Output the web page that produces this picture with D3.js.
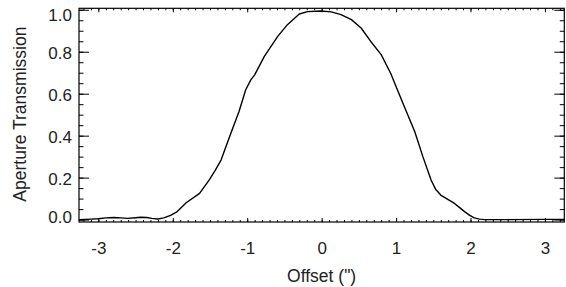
<!DOCTYPE html>
<html lang="en">
<head>
  <meta charset="UTF-8">
  <script src="https://d3js.org/d3.v7.min.js"></script>
  <style>
    body { margin: 0; background: #fff; }
    svg text { font-family: "Liberation Sans", Arial, sans-serif; fill: #222; }
    .axis path.domain { display: none; }
    .axis line { stroke: #000; stroke-width: 1; }
  </style>
  <title>Aperture Transmission</title>
</head>
<body>
  <svg id="chart" width="566" height="287"></svg>
  <script>
    // offset in arcsec, transmission
    var offset = [-3.26, -3.10, -3.00, -2.90, -2.79, -2.70, -2.61, -2.50, -2.43, -2.35,
      -2.28, -2.20, -2.12, -2.03, -1.94, -1.82, -1.64, -1.51, -1.43, -1.35,
      -1.22, -1.11, -1.02, -0.95, -0.90, -0.77, -0.59, -0.46, -0.30, -0.19,
      -0.01, 0.13, 0.26, 0.40, 0.53, 0.66, 0.80, 0.93, 0.98, 1.11,
      1.25, 1.36, 1.47, 1.53, 1.60, 1.70, 1.78, 1.85, 1.92, 1.99,
      2.05, 2.12, 2.19, 2.50, 3.00, 3.26];
    var transmission = [0.000, 0.002, 0.004, 0.008, 0.010, 0.008, 0.006, 0.009, 0.011, 0.010,
      0.006, 0.003, 0.008, 0.020, 0.038, 0.080, 0.125, 0.189, 0.235, 0.285,
      0.412, 0.515, 0.619, 0.667, 0.690, 0.778, 0.873, 0.929, 0.980, 0.991,
      0.994, 0.990, 0.977, 0.953, 0.913, 0.849, 0.786, 0.695, 0.651, 0.539,
      0.420, 0.300, 0.189, 0.145, 0.117, 0.095, 0.078, 0.058, 0.038, 0.020,
      0.008, 0.002, 0.000, 0.000, 0.001, 0.001];

    var xTicks = [-3, -2, -1, 0, 1, 2, 3];
    var yTicks = [0.0, 0.2, 0.4, 0.6, 0.8, 1.0];

    var svg = d3.select("#chart");
    var pLeft = 79, pRight = 564.3, pTop = 8.3, pBottom = 222;

    var x = d3.scaleLinear().domain([-3.26, 3.26]).range([pLeft, pRight]);
    var y = d3.scaleLinear().domain([-0.0115, 1.007]).range([pBottom, pTop]);

    var xMinor = d3.range(-32, 33).map(function (d) { return d / 10; });
    var yMinor = d3.range(0, 21).map(function (d) { return d / 20; });

    // bottom axis
    svg.append("g").attr("class", "axis")
      .attr("transform", "translate(0," + pBottom + ")")
      .call(d3.axisBottom(x).tickValues(xMinor).tickSize(-2).tickFormat(""));
    var xb = svg.append("g").attr("class", "axis")
      .attr("transform", "translate(0," + pBottom + ")")
      .call(d3.axisBottom(x).tickValues(xTicks).tickSize(-4).tickPadding(20)
        .tickFormat(function (d) { return String(d); }));
    xb.selectAll("text").style("font-size", "17px").attr("fill", "#222");

    // top axis
    svg.append("g").attr("class", "axis")
      .attr("transform", "translate(0," + pTop + ")")
      .call(d3.axisTop(x).tickValues(xMinor).tickSize(-2).tickFormat(""));
    svg.append("g").attr("class", "axis")
      .attr("transform", "translate(0," + pTop + ")")
      .call(d3.axisTop(x).tickValues(xTicks).tickSize(-4).tickFormat(""));

    // left axis
    svg.append("g").attr("class", "axis")
      .attr("transform", "translate(" + pLeft + ",0)")
      .call(d3.axisLeft(y).tickValues(yMinor).tickSize(-4.5).tickFormat(""));
    var yl = svg.append("g").attr("class", "axis")
      .attr("transform", "translate(" + pLeft + ",0)")
      .call(d3.axisLeft(y).tickValues(yTicks).tickSize(-10).tickPadding(7)
        .tickFormat(d3.format(".1f")));
    yl.selectAll("text").style("font-size", "17px").attr("fill", "#222")
      .attr("dy", function (d) {
        if (d === 1.0 || d === 0.0) return "0.32em";
        return "0.42em";
      })
      .attr("y", function (d) {
        if (d === 1.0) return 5;
        if (d === 0.0) return -3;
        return 0;
      });

    // right axis
    svg.append("g").attr("class", "axis")
      .attr("transform", "translate(" + pRight + ",0)")
      .call(d3.axisRight(y).tickValues(yMinor).tickSize(-4.5).tickFormat(""));
    svg.append("g").attr("class", "axis")
      .attr("transform", "translate(" + pRight + ",0)")
      .call(d3.axisRight(y).tickValues(yTicks).tickSize(-10).tickFormat(""));

    // frame
    svg.append("rect")
      .attr("x", pLeft).attr("y", pTop)
      .attr("width", pRight - pLeft).attr("height", pBottom - pTop)
      .attr("fill", "none").attr("stroke", "#000").attr("stroke-width", 1.2);

    // curve
    var line = d3.line()
      .x(function (d, i) { return x(offset[i]); })
      .y(function (d, i) { return y(transmission[i]); });
    svg.append("path")
      .datum(offset)
      .attr("d", line)
      .attr("fill", "none")
      .attr("stroke", "#000")
      .attr("stroke-width", 1.4)
      .attr("stroke-linejoin", "round");

    // axis titles
    svg.append("text")
      .attr("x", (pLeft + pRight) / 2).attr("y", 281.5)
      .attr("text-anchor", "middle")
      .style("font-size", "17.5px")
      .text("Offset (\")");

    svg.append("text")
      .attr("transform", "translate(25.5," + ((pTop + pBottom) / 2 - 1) + ") rotate(-90)")
      .attr("text-anchor", "middle")
      .style("font-size", "17.5px")
      .text("Aperture Transmission");
  </script>
</body>
</html>
